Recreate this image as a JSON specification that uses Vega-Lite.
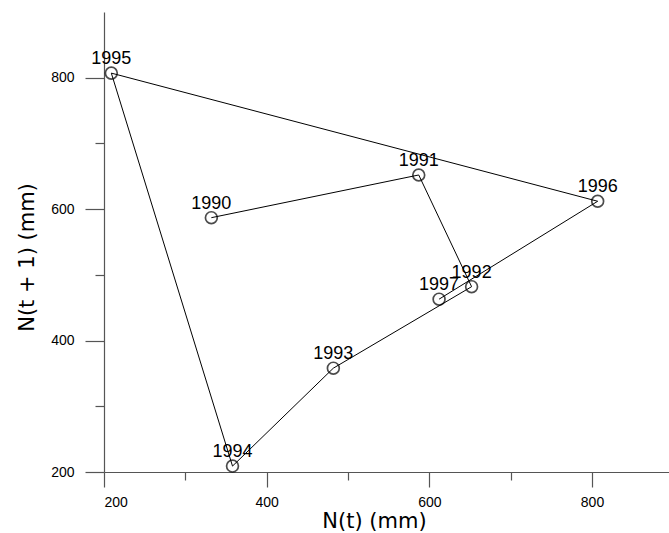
{
  "$schema": "https://vega.github.io/schema/vega-lite/v6.json",
  "autosize": "none",
  "padding": {"left": 104, "top": 12, "right": 0, "bottom": 61},
  "width": 565,
  "height": 460,
  "background": "white",
  "config": {
    "view": {"stroke": null},
    "axis": {
      "grid": false,
      "domainColor": "#555555",
      "domainWidth": 1.2,
      "tickColor": "#555555",
      "tickWidth": 1.2,
      "labelColor": "black",
      "labelFont": "Liberation Sans",
      "labelFontSize": 14,
      "titleColor": "black",
      "titleFont": "DejaVu Sans",
      "titleFontSize": 21,
      "titleFontWeight": "normal"
    }
  },
  "data": {
    "values": [
      {"year": 1990, "n_t": 332, "n_t1": 587},
      {"year": 1991, "n_t": 587, "n_t1": 652},
      {"year": 1992, "n_t": 652, "n_t1": 482},
      {"year": 1993, "n_t": 482, "n_t1": 358},
      {"year": 1994, "n_t": 358, "n_t1": 209},
      {"year": 1995, "n_t": 209, "n_t1": 807},
      {"year": 1996, "n_t": 807, "n_t1": 612},
      {"year": 1997, "n_t": 612, "n_t1": 463}
    ]
  },
  "encoding": {
    "x": {
      "field": "n_t",
      "type": "quantitative",
      "scale": {"domain": [200, 894.7], "nice": false, "zero": false},
      "axis": {
        "title": "N(t) (mm)",
        "values": [200, 300, 400, 500, 600, 700, 800],
        "labelExpr": "datum.value % 200 === 0 ? datum.label : ''",
        "tickSize": {"condition": {"test": "datum.value % 200 === 0", "value": 15}, "value": 8},
        "labelPadding": 8,
        "titleX": 270,
        "titleY": 55,
        "titleBaseline": "alphabetic",
        "titleAnchor": "middle"
      }
    },
    "y": {
      "field": "n_t1",
      "type": "quantitative",
      "scale": {"domain": [200, 900], "nice": false, "zero": false},
      "axis": {
        "title": "N(t + 1) (mm)",
        "values": [200, 300, 400, 500, 600, 700, 800],
        "labelExpr": "datum.value % 200 === 0 ? datum.label : ''",
        "tickSize": {"condition": {"test": "datum.value % 200 === 0", "value": 19}, "value": 9},
        "labelPadding": 11,
        "titleX": -77,
        "titleY": 245,
        "titleAngle": -90,
        "titleBaseline": "middle",
        "titleAnchor": "middle"
      }
    }
  },
  "layer": [
    {
      "mark": {"type": "line", "color": "black", "strokeWidth": 1},
      "encoding": {"order": {"field": "year", "type": "quantitative"}}
    },
    {
      "mark": {"type": "point", "shape": "circle", "filled": false, "color": "black", "strokeWidth": 1.7, "size": 140}
    },
    {
      "mark": {"type": "text", "font": "Liberation Sans", "fontSize": 18, "color": "black", "align": "center", "baseline": "alphabetic", "dy": -9},
      "encoding": {"text": {"field": "year", "type": "nominal"}}
    }
  ]
}
